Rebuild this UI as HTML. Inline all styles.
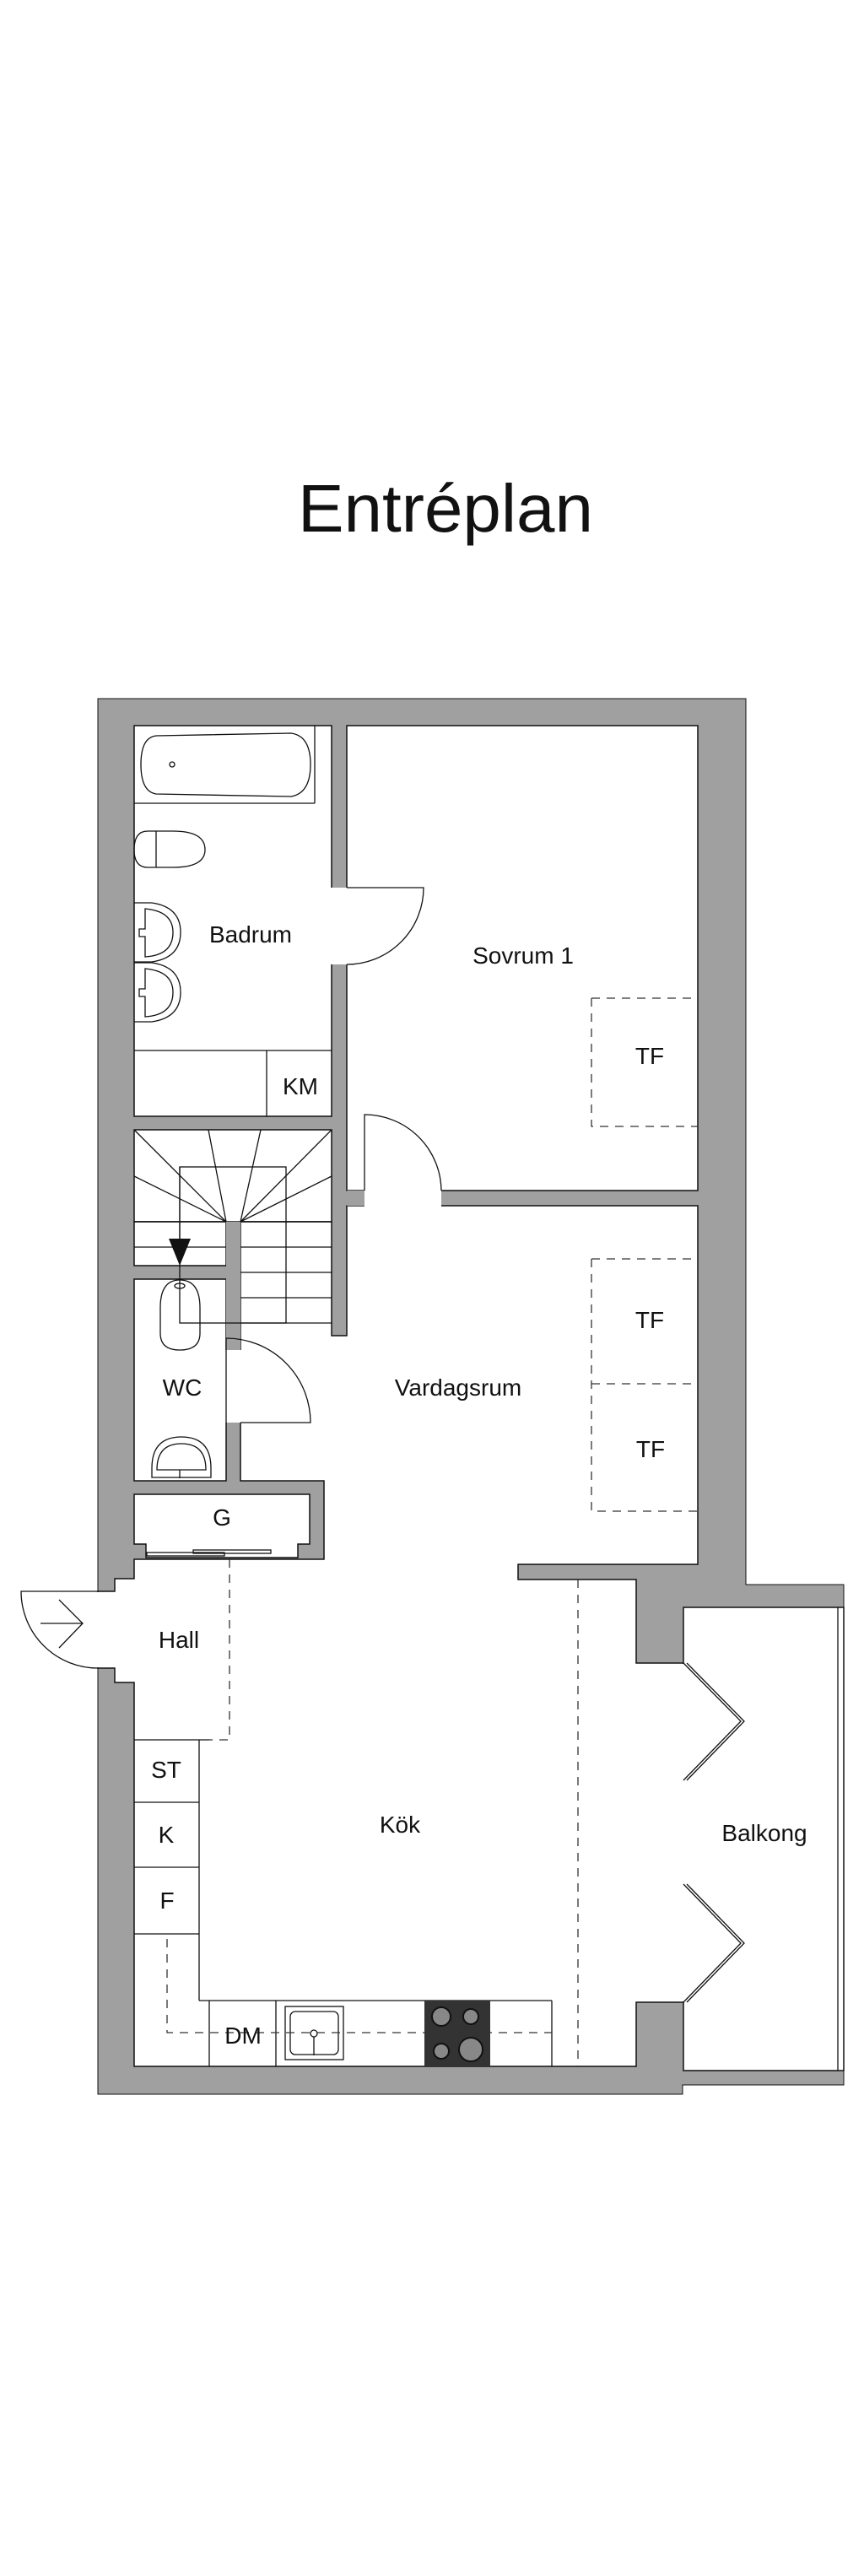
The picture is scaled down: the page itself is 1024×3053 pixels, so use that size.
<!DOCTYPE html>
<html><head><meta charset="utf-8"><style>
html,body{margin:0;padding:0;background:#fff;}
svg{display:block;}
text{font-family:"Liberation Sans",sans-serif;fill:#111;}
</style></head><body>
<svg width="1024" height="3053" viewBox="0 0 1024 3053" xmlns="http://www.w3.org/2000/svg">
<rect width="1024" height="3053" fill="#fff"/>
<text x="528" y="630" font-size="80" text-anchor="middle" textLength="350" lengthAdjust="spacingAndGlyphs">Entréplan</text>

<polygon points="116,828 884,828 884,1878 1000,1878 1000,2471 809,2471 809,2482 116,2482" fill="#a0a0a0" stroke="#111" stroke-width="1"/>

<g fill="#fff" stroke="#111" stroke-width="1.5">
<rect x="159" y="860" width="234" height="463"/>
<rect x="411" y="860" width="416" height="551"/>
<rect x="159" y="1339" width="234" height="109"/>
<rect x="159" y="1448" width="109" height="52"/>
<polygon points="411,1429 827,1429 827,1854 614,1854 614,1872 754,1872 754,1971 810,1971 810,2373 754,2373 754,2449 159,2449 159,1994 136,1994 136,1977 116,1977 116,1886 136,1886 136,1871 159,1871 159,1848 384,1848 384,1755 285,1755 285,1448 393,1448 393,1583 411,1583"/>
<rect x="159" y="1516" width="109" height="239"/>
<polygon points="159,1771 367,1771 367,1830 353,1830 353,1846 173,1846 173,1830 159,1830"/>
<rect x="810" y="1905" width="190" height="549"/>
</g>
<g fill="#fff">
<rect x="392" y="1052" width="20" height="91"/>
<rect x="432" y="1410" width="91" height="20"/>
<rect x="266" y="1600" width="20" height="86"/>
<rect x="114" y="1887" width="4" height="89"/>
<rect x="808" y="1972" width="4" height="400"/>
</g>
<rect x="411" y="1411" width="21" height="18" fill="#a0a0a0"/>
<rect x="268" y="1448" width="17" height="152" fill="#a0a0a0"/>

<g fill="none" stroke="#111" stroke-width="1.3">
<line x1="159" y1="952" x2="373" y2="952"/><line x1="373" y1="860" x2="373" y2="952"/>
<path d="M185,872 L345,869 Q368,872 368,906 Q368,940 345,944 L185,941 Q167,938 167,906 Q167,874 185,872Z"/>
<circle cx="204" cy="906" r="3"/>
<path d="M175,985 L205,985 Q243,985 243,1007 Q243,1028 205,1028 L175,1028 Q159,1028 159,1007 Q159,985 175,985Z"/>
<line x1="185" y1="985" x2="185" y2="1028"/>
<path d="M159,1070 L180,1070 Q214,1075 214,1105 Q214,1135 180,1140 L159,1140"/>
<path d="M172,1077 Q205,1080 205,1105 Q205,1132 172,1134 L172,1110 L165,1110 L165,1101 L172,1101Z"/>
<path d="M159,1141 L180,1141 Q214,1146 214,1176 Q214,1206 180,1211 L159,1211"/>
<path d="M172,1148 Q205,1151 205,1176 Q205,1203 172,1205 L172,1181 L165,1181 L165,1172 L172,1172Z"/>
<line x1="159" y1="1245" x2="393" y2="1245"/><line x1="316" y1="1245" x2="316" y2="1323"/>
<path d="M411,1052 L502,1052 A91,91 0 0 1 411,1143"/>
<path d="M432,1411 L432,1321 A91,91 0 0 1 523,1411"/>
<rect x="213" y="1383" width="126" height="185"/>
<line x1="159" y1="1448" x2="268" y2="1448"/><line x1="159" y1="1478" x2="268" y2="1478"/>
<line x1="285" y1="1448" x2="393" y2="1448"/><line x1="285" y1="1478" x2="393" y2="1478"/>
<line x1="285" y1="1508" x2="393" y2="1508"/><line x1="285" y1="1538" x2="393" y2="1538"/>
<line x1="285" y1="1568" x2="393" y2="1568"/>
<line x1="268" y1="1448" x2="159" y2="1339"/><line x1="268" y1="1448" x2="159" y2="1394"/>
<line x1="268" y1="1448" x2="247" y2="1339"/>
<line x1="285" y1="1448" x2="309" y2="1339"/><line x1="285" y1="1448" x2="393" y2="1339"/>
<line x1="285" y1="1448" x2="393" y2="1394"/>
<line x1="213" y1="1383" x2="213" y2="1470"/>
<path d="M190,1550 Q190,1517 213,1517 Q237,1517 237,1550 L237,1580 Q237,1600 213,1600 Q190,1600 190,1580Z"/>
<ellipse cx="213" cy="1524" rx="6" ry="3"/>
<path d="M268,1686 L268,1586 A100,100 0 0 1 368,1686 L285,1686"/>
<path d="M180,1740 Q180,1703 215,1703 Q250,1703 250,1740 L250,1751 L180,1751Z"/>
<path d="M186,1742 Q186,1711 215,1711 Q244,1711 244,1742Z"/>
<line x1="213" y1="1742" x2="213" y2="1752"/>
<rect x="174" y="1840" width="92" height="4"/><rect x="229" y="1837" width="92" height="4"/>
<path d="M116,1886 L25,1886 A91,91 0 0 0 116,1977"/>
<path d="M48,1924 L98,1924 M70,1896 L98,1924 L70,1953"/>
<line x1="159" y1="2062" x2="248" y2="2062"/>
<line x1="236" y1="2062" x2="236" y2="2371"/>
<line x1="159" y1="2136" x2="236" y2="2136"/><line x1="159" y1="2213" x2="236" y2="2213"/>
<line x1="159" y1="2292" x2="236" y2="2292"/>
<line x1="236" y1="2371" x2="654" y2="2371"/><line x1="654" y1="2371" x2="654" y2="2449"/>
<line x1="248" y1="2371" x2="248" y2="2449"/><line x1="327" y1="2371" x2="327" y2="2449"/>
<rect x="338" y="2378" width="69" height="63"/><rect x="344" y="2384" width="57" height="51" rx="6"/>
<circle cx="372" cy="2410" r="4"/><line x1="372" y1="2414" x2="372" y2="2436"/>
<path d="M810,1971 L878,2040 L810,2110"/><path d="M814,1971 L882,2040 L814,2110"/>
<path d="M810,2233 L878,2303 L810,2373"/><path d="M814,2233 L882,2303 L814,2373"/>
<line x1="993" y1="1905" x2="993" y2="2454"/>
</g>
<polygon points="200,1468 226,1468 213,1500" fill="#111"/>
<rect x="503" y="2371" width="78" height="78" fill="#333"/>
<g fill="#888" stroke="#111" stroke-width="2">
<circle cx="523" cy="2390" r="11"/><circle cx="558" cy="2390" r="9"/>
<circle cx="523" cy="2431" r="9"/><circle cx="558" cy="2429" r="14"/>
</g>
<g fill="none" stroke="#333" stroke-width="1.3" stroke-dasharray="10,8">
<path d="M701,1183 L827,1183 M701,1183 L701,1335 L827,1335"/>
<path d="M701,1492 L827,1492 M701,1492 L701,1791 L827,1791 M701,1640 L827,1640"/>
<path d="M272,1848 L272,2062 L248,2062"/>
<path d="M198,2298 L198,2409 L654,2409"/>
<path d="M685,1872 L685,2449"/>
</g>
<g font-size="28" text-anchor="middle">
<text x="297" y="1117">Badrum</text>
<text x="620" y="1142">Sovrum 1</text>
<text x="356" y="1297">KM</text>
<text x="770" y="1261">TF</text>
<text x="770" y="1574">TF</text>
<text x="771" y="1727">TF</text>
<text x="216" y="1654">WC</text>
<text x="543" y="1654">Vardagsrum</text>
<text x="263" y="1808">G</text>
<text x="212" y="1953">Hall</text>
<text x="197" y="2107">ST</text>
<text x="197" y="2184">K</text>
<text x="198" y="2262">F</text>
<text x="474" y="2172">Kök</text>
<text x="906" y="2182">Balkong</text>
<text x="288" y="2422">DM</text>
</g>
</svg>
</body></html>
